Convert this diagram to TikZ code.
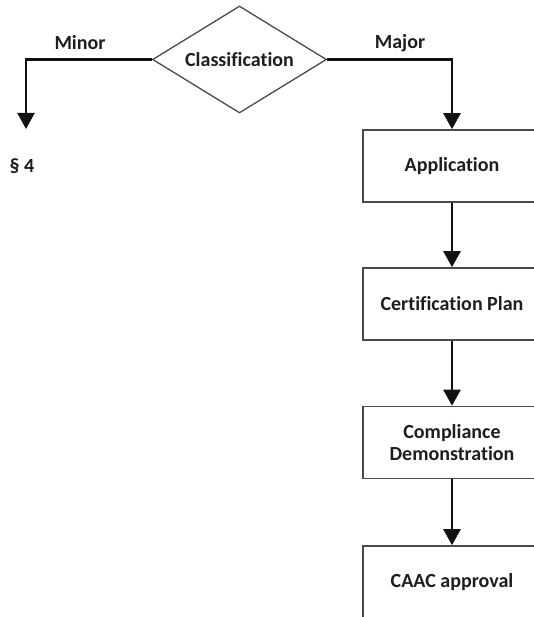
\documentclass[tikz,border=0pt]{standalone}
\usepackage{fontspec}
\setmainfont{Carlito}[Ligatures=NoCommon]
\usetikzlibrary{shapes.geometric,arrows.meta}
\definecolor{txt}{HTML}{1E1E1E}
\definecolor{edge}{HTML}{4A4A4A}
\definecolor{wire}{HTML}{111111}
\tikzset{
  lbl/.style={font=\bfseries\fontsize{20}{22.5}\selectfont, text=txt, inner sep=0pt},
  stepbox/.style={draw=edge, line width=1.6pt, fill=white, minimum width=178pt, minimum height=72pt, inner sep=0pt, align=center, lbl},
  decision/.style={diamond, draw=edge, line width=1.3pt, fill=white, minimum width=174pt, minimum height=107pt, inner sep=0pt},
  flow/.style={draw=wire, line width=2.4pt, -{Triangle[width=17pt,length=16pt]}}
}
\begin{document}
\begin{tikzpicture}[x=1pt,y=-1pt]
\clip (0,0) rectangle (534,617);
\fill[white] (0,0) rectangle (534,617);
\node[decision] (cls) at (239.5,59.5) {};
\node[lbl] (clstext) at (cls.center) {Classification};
\node[stepbox] (app) at (452,166) {Application};
\node[stepbox] (plan) at (452,304) {Certification Plan};
\node[stepbox] (comp) at (452,442.5) {Compliance\\[0pt]Demonstration};
\node[stepbox] (caac) at (452,582) {CAAC approval};
\coordinate (minorend) at (26,129);
\node[lbl] (sec) at (22,166) {§ 4};
\node[lbl] (minor) at (80,43) {Minor};
\node[lbl] (major) at (400,43) {Major};
\draw[flow] (cls.west) -| (minorend);
\draw[flow] (cls.east) -| (app.north);
\draw[flow] (app.south) -- (plan.north);
\draw[flow] (plan.south) -- (comp.north);
\draw[flow] (comp.south) -- (caac.north);
\end{tikzpicture}
\end{document}
